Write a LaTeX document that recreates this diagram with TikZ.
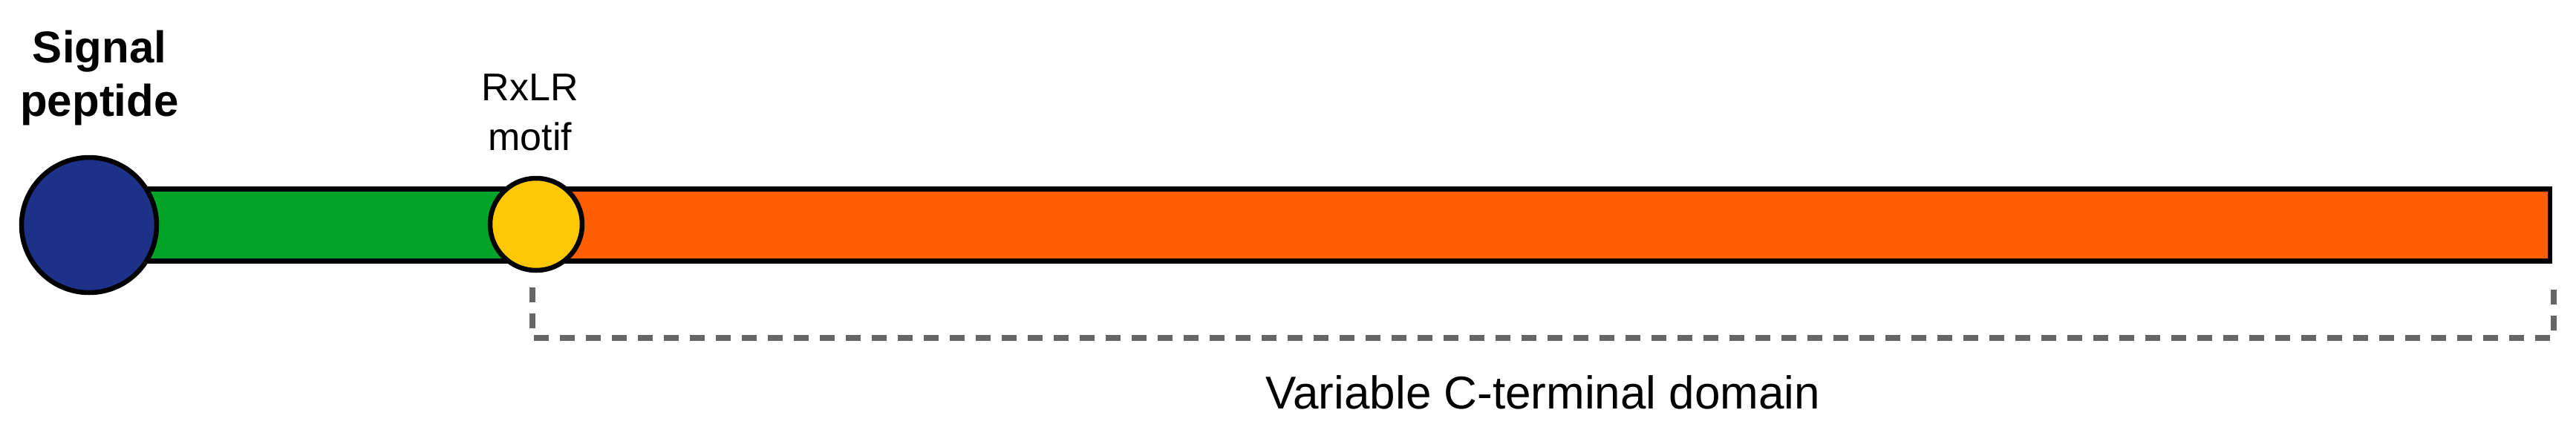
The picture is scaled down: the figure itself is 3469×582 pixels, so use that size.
\documentclass[tikz,border=0pt]{standalone}
\usepackage{fontspec}
\setmainfont{Liberation Sans}
\begin{document}
\begin{tikzpicture}[x=1pt,y=-1pt,
  outline/.style={draw=black,line width=6.5pt},
  bar/.style={outline,rectangle,inner sep=0pt,minimum height=97pt},
  dot/.style={outline,circle,inner sep=0pt},
  bracket/.style={draw=black!60,line width=8pt,dash pattern=on 20pt off 15pt},
  lbl/.style={inner sep=0pt,align=center,text=black}]
\useasboundingbox[fill=white] (0,0) rectangle (3469,582);
\node[bar,fill={rgb,255:red,2;green,164;blue,39},minimum width=520pt,anchor=west] (green) at (180,303) {};
\node[bar,fill={rgb,255:red,255;green,95;blue,0},minimum width=2697pt,anchor=east] (orange) at (3437,303) {};
\node[dot,fill={rgb,255:red,30;green,49;blue,136},minimum size=182pt] (sp) at (120,303) {};
\node[dot,fill={rgb,255:red,255;green,200;blue,0},minimum size=124pt] (rxlr) at (722,302) {};
\node[lbl,font=\bfseries\fontsize{60}{72}\selectfont,anchor=base] (splbl) at (134,156) {Signal\\peptide};
\node[lbl,font=\fontsize{52}{67}\selectfont,anchor=base] (rxlrlbl) at (714,202) {RxLR\\motif};
\node[lbl,font=\fontsize{62}{72}\selectfont,anchor=base] (ctlbl) at (2078,550) {Variable C-terminal domain};
\coordinate (b1) at (717,387);
\coordinate (b2) at (3439,387);
\draw[bracket] (b1) -- (b1 |- 0,455) -- (b2 |- 0,455) -- (b2);
\end{tikzpicture}
\end{document}
